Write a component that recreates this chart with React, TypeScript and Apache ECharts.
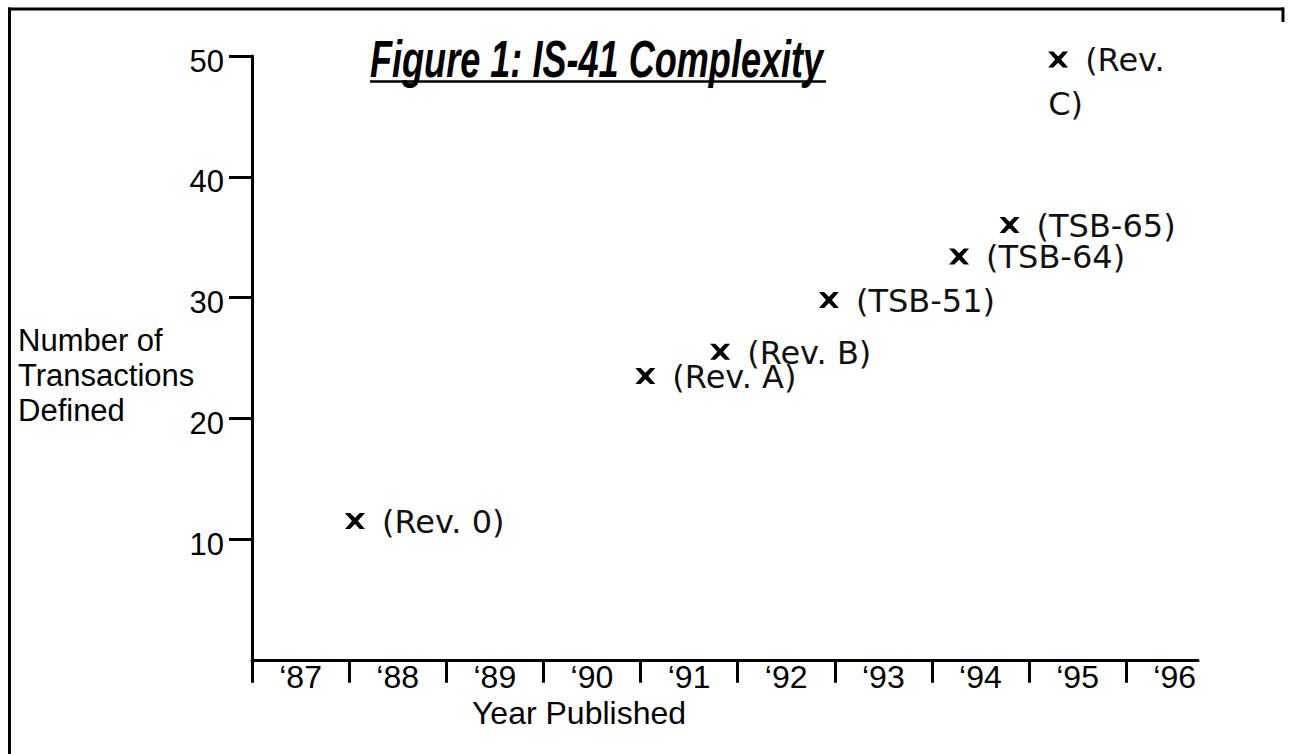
import React, { useEffect, useRef } from 'react';
import * as echarts from 'echarts';

const revisionNames = ['Rev. 0', 'Rev. A', 'Rev. B', 'TSB-51', 'TSB-64', 'TSB-65', 'Rev. C'];
const revisionYears = [88.06, 91.05, 91.82, 92.94, 94.28, 94.8, 95.3];
const transactionCounts = [11.5, 23.5, 25.5, 29.8, 33.4, 36.0, 49.7];
const yearTicks = [87, 88, 89, 90, 91, 92, 93, 94, 95, 96];
const yearLabelPositions = yearTicks.map((y) => y + 0.5);
const countTicks = [10, 20, 30, 40, 50];

const TITLE = 'Figure 1: IS-41 Complexity';
const Y_NAME = '\nNumber of\nTransactions\nDefined';
const X_NAME = 'Year Published';

const X_MARK = 'path://M0,0 L2.6,0 L5,3 L7.4,0 L10,0 L6.5,5 L10,10 L7.4,10 L5,7 L2.6,10 L0,10 L3.5,5 Z';

const AXIS_FONT = "'Liberation Sans', Arial, sans-serif";
const LABEL_FONT = "'DejaVu Sans', Verdana, sans-serif";

export default function App() {
  const ref = useRef<HTMLDivElement>(null);
  useEffect(() => {
    const chart = echarts.init(ref.current as HTMLDivElement, null, { renderer: 'svg' });
    const data = revisionYears.map((x, i) => {
      const item: any = { value: [x, transactionCounts[i]], name: revisionNames[i] };
      if (i === revisionYears.length - 1) {
        const parts = revisionNames[i].split(' ');
        item.label = {
          position: [0, -14],
          align: 'left',
          verticalAlign: 'top',
          offset: [0, 0],
          formatter: `{a|(${parts[0]}}\n{b|${parts[1]})}`,
          rich: {
            a: { fontSize: 32, fontFamily: LABEL_FONT, color: '#111', padding: [0, 0, 0, 37], lineHeight: 44 },
            b: { fontSize: 32, fontFamily: LABEL_FONT, color: '#111', lineHeight: 44 },
          },
        };
      }
      return item;
    });
    chart.setOption({
      animation: false,
      backgroundColor: '#fff',
      grid: { left: 252, right: 95, top: 56, bottom: 94.25, containLabel: false },
      xAxis: {
        type: 'value',
        min: 87,
        max: 96.74,
        name: X_NAME,
        nameLocation: 'middle',
        nameGap: 37,
        nameMoveOverlap: false,
        nameTextStyle: { fontSize: 32, fontFamily: AXIS_FONT, color: '#000', padding: [0, 292, 0, 0] },
        axisLine: { show: true, lineStyle: { color: '#000', width: 3 } },
        axisTick: { show: true, inside: false, length: 23, lineStyle: { color: '#000', width: 3 }, customValues: yearTicks },
        axisLabel: {
          show: true,
          margin: 1,
          fontSize: 32,
          fontFamily: AXIS_FONT,
          color: '#000',
          customValues: yearLabelPositions,
          formatter: (v: number) => '\u2018' + Math.floor(v),
        },
        splitLine: { show: false },
      },
      yAxis: {
        type: 'value',
        min: 0,
        max: 50,
        name: Y_NAME,
        nameLocation: 'middle',
        nameRotate: 0,
        nameGap: 234,
        nameMoveOverlap: false,
        nameTextStyle: { fontSize: 31, fontFamily: AXIS_FONT, color: '#000', align: 'left', verticalAlign: 'middle', lineHeight: 35 },
        axisLine: { show: true, lineStyle: { color: '#000', width: 3 } },
        axisTick: { show: true, inside: false, length: 23, lineStyle: { color: '#000', width: 3 }, customValues: countTicks },
        axisLabel: {
          show: true,
          margin: 28,
          fontSize: 31,
          fontFamily: AXIS_FONT,
          color: '#000',
          verticalAlign: 'top',
          lineHeight: 10,
          customValues: countTicks,
        },
        splitLine: { show: false },
      },
      graphic: [
        {
          type: 'text',
          x: 370,
          y: 58,
          scaleX: 0.694,
          style: {
            text: TITLE,
            fontFamily: "'Liberation Sans', Arial, sans-serif",
            fontSize: 52,
            fontStyle: 'italic',
            fontWeight: 'bold',
            fill: '#000',
            textAlign: 'left',
            textVerticalAlign: 'middle',
            verticalAlign: 'middle',
          },
        },
        { type: 'line', shape: { x1: 370, y1: 81.5, x2: 826, y2: 81.5 }, style: { stroke: '#000', lineWidth: 2.7 } },
        { type: 'line', shape: { x1: 9.5, y1: 7.5, x2: 9.5, y2: 754 }, style: { stroke: '#000', lineWidth: 3 } },
        { type: 'line', shape: { x1: 8, y1: 9, x2: 1284, y2: 9 }, style: { stroke: '#000', lineWidth: 3 } },
        { type: 'line', shape: { x1: 1283, y1: 7.5, x2: 1283, y2: 22 }, style: { stroke: '#000', lineWidth: 3 } },
      ],
      series: [
        {
          type: 'scatter',
          symbol: X_MARK,
          symbolSize: [20, 16],
          itemStyle: { color: '#000', opacity: 1 },
          label: {
            show: true,
            position: 'right',
            distance: 17,
            offset: [0, 1],
            fontSize: 32,
            lineHeight: 30,
            fontFamily: LABEL_FONT,
            color: '#111',
            formatter: (p: any) => '(' + p.name + ')',
          },
          emphasis: { disabled: true },
          data,
        },
      ],
    });
    return () => chart.dispose();
  }, []);
  return (
    <div
      ref={ref}
      style={{ position: 'fixed', left: 0, top: 0, width: 1293, height: 754, background: '#fff' }}
    />
  );
}
